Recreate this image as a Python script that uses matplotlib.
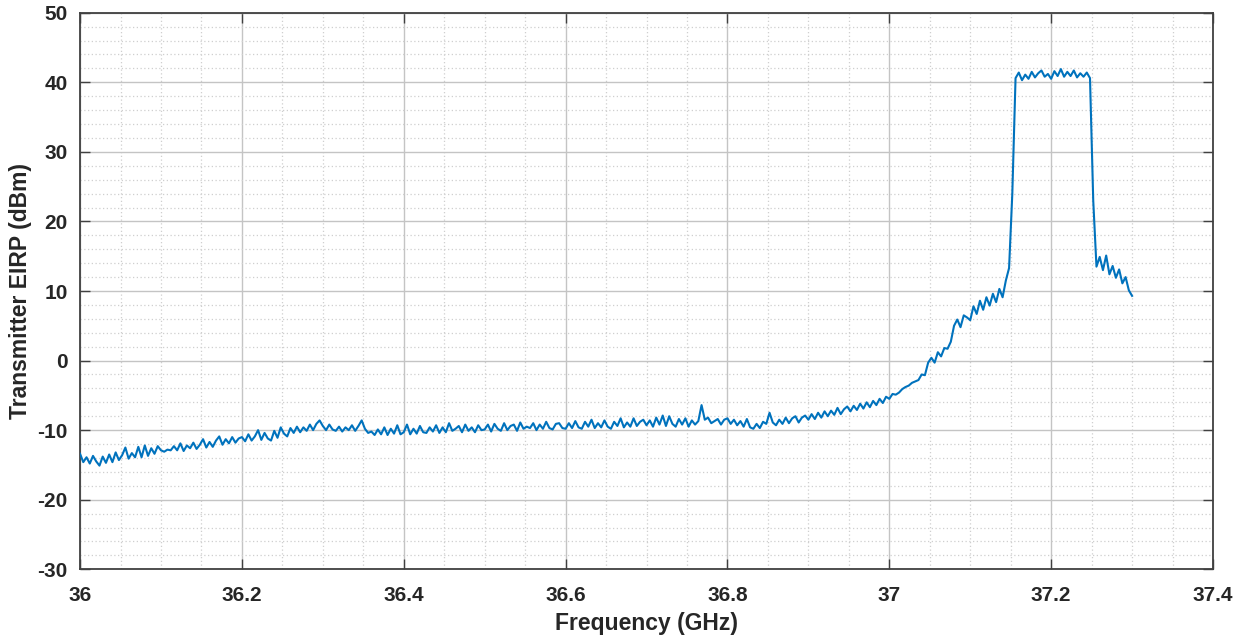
import numpy as np
import matplotlib
matplotlib.use("Agg")
import matplotlib.pyplot as plt
from matplotlib.ticker import MultipleLocator

# Frequency grid (GHz): sweep start and step
f_start = 36.0
f_step = 0.004

# Transmitter EIRP (dBm), 0.1 GHz per row
eirp_3600 = [-13.4, -14.6, -13.9, -14.8, -13.7, -14.5, -15.1, -13.8, -14.7, -13.5, -14.6, -13.2, -14.3,
             -13.6, -12.5, -14.1, -13.3, -13.9, -12.4, -13.9, -12.2, -13.7, -12.6, -13.4, -12.3]
eirp_3610 = [-12.9, -13.1, -12.8, -12.9, -12.3, -12.9, -11.9, -13.0, -12.2, -12.6, -11.8, -12.7, -12.1,
             -11.3, -12.5, -11.7, -12.4, -11.5, -10.9, -12.1, -11.3, -11.9, -11.0, -11.8, -11.2]
eirp_3620 = [-11.0, -11.6, -10.6, -11.5, -10.9, -10.0, -11.4, -10.4, -11.2, -11.5, -10.1, -11.1, -9.6,
             -10.5, -10.9, -9.7, -10.4, -9.5, -10.3, -9.6, -10.1, -9.2, -10.0, -9.1, -8.6]
eirp_3630 = [-9.4, -10.0, -9.2, -9.9, -10.1, -9.5, -10.2, -9.6, -10.0, -9.3, -10.1, -9.4, -8.6,
             -9.8, -10.4, -10.2, -10.7, -9.9, -10.6, -9.6, -10.7, -9.8, -10.5, -9.3, -10.6]
eirp_3640 = [-10.3, -9.2, -10.6, -9.8, -10.5, -9.4, -10.3, -10.4, -9.6, -10.2, -9.3, -10.4, -9.6,
             -10.3, -9.0, -10.1, -9.8, -9.4, -10.3, -9.2, -10.1, -9.6, -10.3, -9.3, -10.0]
eirp_3650 = [-9.9, -9.2, -10.2, -9.1, -9.8, -10.1, -9.0, -10.0, -9.4, -9.2, -10.1, -8.9, -9.8,
             -9.5, -9.7, -9.0, -10.0, -9.2, -9.8, -8.8, -9.7, -9.9, -9.1, -9.0, -9.7]
eirp_3660 = [-9.8, -9.0, -9.7, -8.7, -9.6, -9.8, -8.8, -9.5, -8.5, -9.7, -9.0, -9.6, -8.6,
             -9.5, -9.8, -8.8, -9.4, -8.3, -9.6, -8.9, -9.5, -8.3, -9.4, -8.8, -8.5]
eirp_3670 = [-9.3, -8.6, -9.5, -8.2, -9.2, -7.9, -9.4, -8.0, -9.1, -9.5, -8.4, -9.2, -8.3,
             -9.5, -8.6, -9.2, -8.7, -6.4, -8.5, -8.2, -9.0, -8.7, -8.4, -9.2, -8.5]
eirp_3680 = [-8.3, -9.1, -8.5, -9.3, -8.7, -9.5, -8.4, -9.6, -9.8, -9.1, -9.7, -8.8, -9.1,
             -7.5, -8.9, -9.3, -8.5, -9.1, -8.2, -9.0, -8.3, -8.0, -8.9, -8.2, -7.9]
eirp_3690 = [-8.5, -7.7, -8.4, -7.5, -8.2, -7.3, -8.0, -7.2, -7.8, -6.8, -7.7, -7.0, -6.6,
             -7.3, -6.5, -7.1, -6.2, -6.9, -6.0, -6.7, -5.8, -6.4, -5.5, -6.1, -5.2]
eirp_3700 = [-5.5, -4.8, -4.9, -4.6, -4.1, -3.8, -3.6, -3.2, -3.0, -2.8, -2.0, -2.1, -0.3,
             0.4, -0.3, 1.2, 0.6, 1.8, 1.7, 2.7, 5.0, 5.9, 4.8, 6.5, 6.2]
eirp_3710 = [5.8, 7.8, 6.7, 8.6, 7.3, 9.1, 7.9, 9.6, 8.4, 10.3, 9.1, 11.5, 13.3,
             24.0, 40.6, 41.4, 40.3, 41.1, 40.5, 41.5, 40.7, 41.3, 41.7, 40.8, 41.2]
eirp_3720 = [40.5, 41.6, 40.9, 41.9, 40.8, 41.5, 40.9, 41.7, 40.7, 41.3, 40.8, 41.4, 40.6,
             23.0, 13.5, 14.9, 13.0, 15.1, 12.4, 13.6, 11.9, 13.1, 11.1, 12.0, 10.1, 9.3]

eirp = np.array(eirp_3600 + eirp_3610 + eirp_3620 + eirp_3630 + eirp_3640 + eirp_3650 +
                eirp_3660 + eirp_3670 + eirp_3680 + eirp_3690 + eirp_3700 + eirp_3710 +
                eirp_3720)
freq = np.round(f_start + f_step * np.arange(len(eirp)), 3)

x_ticks = [36, 36.2, 36.4, 36.6, 36.8, 37, 37.2, 37.4]
x_tick_labels = ["36", "36.2", "36.4", "36.6", "36.8", "37", "37.2", "37.4"]
y_ticks = [-30, -20, -10, 0, 10, 20, 30, 40, 50]
y_tick_labels = ["-30", "-20", "-10", "0", "10", "20", "30", "40", "50"]

plt.rcParams['font.family'] = ['Liberation Sans', 'DejaVu Sans']
plt.rcParams['axes.unicode_minus'] = False

fig = plt.figure(figsize=(12.45, 6.36), dpi=100)
ax = fig.add_axes([0.0643, 0.1049, 0.9100, 0.8751])

ax.plot(freq, eirp, color='#0072BD', lw=1.5, zorder=3)

ax.set_xlim(36, 37.4)
ax.set_ylim(-30, 50)
ax.set_xticks(x_ticks)
ax.set_xticklabels(x_tick_labels)
ax.set_yticks(y_ticks)
ax.set_yticklabels(y_tick_labels)
ax.xaxis.set_minor_locator(MultipleLocator(0.05))
ax.yaxis.set_minor_locator(MultipleLocator(2))

ax.grid(which='major', color='#c4c4c4', lw=1.0, ls='-', zorder=0)
ax.grid(which='minor', color='#cfcfcf', lw=0.9, ls=(0, (1, 2)), zorder=0)

ax.tick_params(which='major', direction='in', length=7.5, width=1.0, color='#404040',
               top=True, right=True, labelsize=15, labelcolor='#262626')
ax.tick_params(axis='x', which='major', pad=12)
ax.tick_params(axis='y', which='major', pad=9)
ax.tick_params(which='minor', length=0, top=True, right=True)
for lab in ax.get_xticklabels() + ax.get_yticklabels():
    lab.set_fontweight('bold')

for s in ax.spines.values():
    s.set_color('#404040')
    s.set_linewidth(1.3)

ax.set_xlabel('Frequency (GHz)', fontsize=16.5, fontweight='bold', color='#262626', labelpad=5)
ax.set_ylabel('Transmitter EIRP (dBm)', fontsize=16.5, fontweight='bold', color='#262626', labelpad=4)

fig.savefig('out.png', dpi=100)
